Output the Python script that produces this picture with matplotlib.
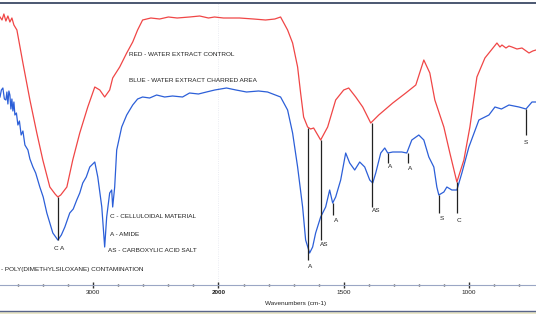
import numpy as np
import matplotlib
matplotlib.use("Agg")
import matplotlib.pyplot as plt

# ---------------- data (wavenumber cm-1, transmittance in arbitrary units) ----------------
red_wn = [3745, 3729, 3714, 3698, 3682, 3666, 3650, 3634, 3610, 3562, 3506, 3451, 3403, 3347,
          3305, 3283, 3260, 3211, 3164, 3108, 3044, 2988, 2948, 2909, 2869, 2845, 2789, 2733, 2685, 2646,
          2606, 2540, 2470, 2400, 2330, 2231, 2150, 2080, 2032, 1980, 1916, 1860, 1812, 1775,
          1752, 1724, 1704, 1684, 1672, 1660, 1644, 1632, 1620, 1592, 1564, 1532, 1500, 1480,
          1452, 1424, 1392, 1360, 1304, 1252, 1212, 1180, 1156, 1136, 1100, 1076, 1048, 1020,
          996, 968, 936, 888, 876, 868, 852, 840, 828, 808, 788, 760, 745, 732]
red_t = [268, 265, 271, 264, 269, 263, 267, 260, 255, 222, 185, 152, 125, 98,
         91, 88, 90, 98, 125, 152, 178, 198, 195, 188, 195, 207, 218, 232, 243, 255,
         265, 267, 266, 268, 267, 268, 269, 267, 268, 267, 267, 266, 265, 266,
         268, 255, 242, 218, 192, 168, 158, 156, 157, 145, 158, 185, 195, 197,
         188, 178, 162, 170, 182, 192, 200, 225, 212, 185, 158, 132, 103, 125,
         158, 208, 227, 242, 238, 240, 237, 239, 238, 236, 237, 232, 234, 235]

blue_wn = [3745, 3734, 3722, 3710, 3698, 3690, 3682, 3674, 3666, 3658, 3650, 3642, 3634, 3626,
           3614, 3602, 3590, 3576, 3562, 3546, 3522, 3506, 3482, 3460,
           3427, 3400, 3371, 3323, 3283, 3255, 3227, 3188, 3160, 3132, 3108, 3084, 3056, 3028, 2988,
           2964, 2932, 2909, 2893,
           2869, 2853, 2845, 2829, 2813, 2773, 2733, 2685, 2646, 2606, 2550, 2494, 2430, 2367,
           2287, 2231, 2160, 2096, 2030, 1968, 1930, 1888, 1840, 1804, 1752, 1724, 1704, 1684,
           1664, 1652, 1636, 1624, 1612, 1592, 1572, 1556, 1544, 1532, 1512, 1492, 1476, 1456,
           1436, 1416, 1396, 1384, 1372, 1352, 1336, 1324, 1304, 1268, 1248, 1228, 1200, 1180,
           1160, 1140, 1128, 1120, 1100, 1088, 1068, 1048, 1028, 1000, 960, 920, 896, 870, 840,
           820, 800, 772, 748, 732]
blue_t = [188, 195, 197, 186, 185, 193, 181, 194, 190, 176, 186, 174, 183, 170,
          172, 160, 164, 150, 154, 140, 135, 126, 118, 112,
          98, 88, 72, 52, 45, 50, 58, 72, 76, 85, 92, 102, 108, 118, 123,
          108, 78, 38, 68,
          92, 95, 78, 98, 135, 158, 170, 180, 186, 188, 187, 190, 188, 189,
          188, 192, 191, 193, 195, 197, 195, 193, 194, 193, 188, 175, 152, 118,
          78, 45, 32, 38, 52, 68, 78, 95, 82, 88, 105, 132, 122, 115,
          123, 118, 105, 102, 112, 132, 137, 132, 133, 133, 132, 145, 150, 145,
          128, 118, 98, 90, 93, 98, 95, 95, 112, 138, 165, 170, 178, 176, 180,
          179, 178, 176, 183, 183]

# annotation markers: (wavenumber, line top, line bottom, label, label height)
mark_wn = [3283, 1644, 1592, 1544, 1388, 1324, 1244, 1120, 1048, 772]
mark_top = [88, 157, 145, 82, 162, 132, 132, 90, 103, 176]
mark_bot = [45, 25, 45, 70, 78, 122, 122, 72, 72, 150]
mark_lab = ["C A", "A", "AS", "A", "AS", "A", "A", "S", "C", "S"]
mark_lab_wn = [3275, 1636, 1576, 1532, 1372, 1316, 1236, 1108, 1040, 772]
mark_lab_t = [37, 18, 40, 65, 74, 119, 116, 67, 65, 143]

tick_major = [3000, 2000, 1500, 1000]
tick_minor = [3600, 3400, 3200, 2800, 2600, 2400, 2200,
              1900, 1800, 1700, 1600, 1400, 1300, 1200, 1100, 900, 800]

legend_lines = ["RED - WATER EXTRACT CONTROL", "BLUE - WATER EXTRACT CHARRED AREA"]
key_lines = ["C - CELLULOIDAL MATERIAL", "A - AMIDE", "AS - CARBOXYLIC ACID SALT"]
s_line = "- POLY(DIMETHYLSILOXANE) CONTAMINATION"

# ---------------- scale: 2x compression above 2000 cm-1 ----------------
def fwd(w):
    w = np.asarray(w, dtype=float)
    return np.where(w > 2000, 2000 + (w - 2000) / 2.0, w)

def inv(u):
    u = np.asarray(u, dtype=float)
    return np.where(u > 2000, 2000 + (u - 2000) * 2.0, u)

FONT = "Liberation Sans"
fig = plt.figure(figsize=(5.36, 3.14), dpi=100)
ax = fig.add_axes([0, 29 / 314, 1, 282.5 / 314])
ax.set_xscale("function", functions=(fwd, inv))
ax.set_xlim(3745, 732)
ax.set_ylim(0, 282.5)

ax.axvline(2000, color="#e4e6ee", lw=0.6, ls=":", zorder=0)

ax.plot(red_wn, red_t, color="#f04646", lw=0.9, zorder=3)
ax.plot(blue_wn, blue_t, color="#2c5fd8", lw=0.9, zorder=3)

ax.vlines(mark_wn, mark_bot, mark_top, color="#222222", lw=0.9, zorder=4)
for w, t, s in zip(mark_lab_wn, mark_lab_t, mark_lab):
    ax.text(w, t, s, ha="center", va="center", fontsize=4.6, family=FONT, color="#222222")

ax.text(2717, 230, legend_lines[0], ha="left", va="center", fontsize=4.6, family=FONT, color="#222222")
ax.text(2717, 205, legend_lines[1], ha="left", va="center", fontsize=4.6, family=FONT, color="#222222")
for t, s in zip([68, 50, 34], key_lines):
    ax.text(2885 if s.startswith("AS") else 2869, t, s, ha="left", va="center",
            fontsize=4.6, family=FONT, color="#222222")
ax.text(3737, 15, s_line, ha="left", va="center", fontsize=4.6, family=FONT, color="#222222")

# axes styling
for side in ("left", "right"):
    ax.spines[side].set_visible(False)
ax.spines["top"].set_color("#3d4a66")
ax.spines["top"].set_linewidth(1.3)
ax.spines["bottom"].set_color("#9aa6c4")
ax.spines["bottom"].set_linewidth(0.8)
ax.set_yticks([])
ax.set_xticks(tick_major)
ax.set_xticklabels([str(v) for v in tick_major])
ax.set_xticks(tick_minor, minor=True)
ax.tick_params(axis="x", which="major", direction="inout", length=4, width=1.0,
               color="#333333", pad=1.5, labelsize=4.6)
ax.tick_params(axis="x", which="minor", direction="inout", length=2, width=1.0,
               color="#333333")
for lab in ax.get_xticklabels():
    lab.set_family(FONT)
    lab.set_color("#222222")
    if lab.get_text() == "2000":
        lab.set_fontweight("bold")

ax.text(1692, -18, "Wavenumbers (cm-1)", ha="center", va="center", fontsize=4.6,
        family=FONT, color="#222222", clip_on=False)

# scan-edge band at bottom
fig.add_artist(plt.Line2D([0, 1], [3 / 314, 3 / 314], color="#59658a", lw=1.0))
fig.add_artist(plt.Rectangle((0, 0), 1, 2.5 / 314, color="#e9e6c8", lw=0))

fig.savefig("out.png", dpi=100)
